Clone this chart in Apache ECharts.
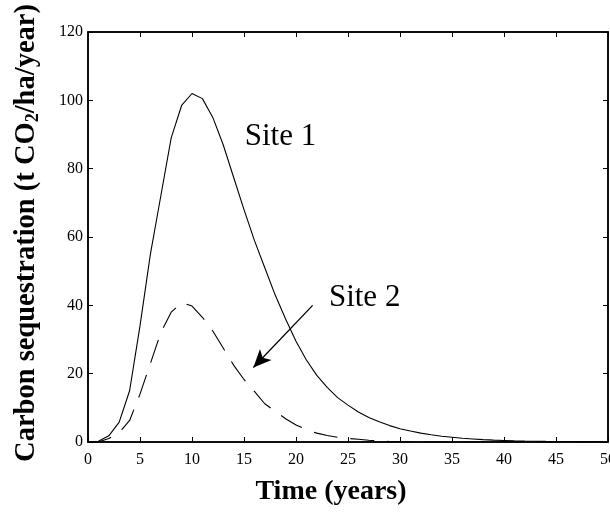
<!DOCTYPE html>
<html>
<head>
<meta charset="utf-8">
<script src="https://cdn.jsdelivr.net/npm/echarts@6/dist/echarts.min.js"></script>
<style>
  html, body { margin: 0; padding: 0; background: #ffffff; }
  #chart { width: 610px; height: 515px; }
</style>
</head>
<body>
<div id="chart"></div>
<script>
// Annual carbon sequestration at two sites over 50 years
const years = [0, 1, 2, 3, 4, 5, 6, 7, 8, 9, 10, 11, 12, 13, 14, 15, 16, 17, 18, 19, 20,
  21, 22, 23, 24, 25, 26, 27, 28, 29, 30, 31, 32, 33, 34, 35, 36, 37, 38, 39, 40,
  41, 42, 43, 44, 45, 46, 47, 48, 49, 50];

const site1 = [0, 0.2, 1.8, 5.8, 15, 34, 55, 72, 89, 98.5, 102, 100.5, 95, 87, 77.5, 68, 59, 51, 43, 36, 29.5,
  24, 19.5, 16, 13, 10.8, 8.8, 7.2, 5.9, 4.8, 3.9, 3.2, 2.6, 2.1, 1.7, 1.4, 1.1, 0.9, 0.7, 0.55, 0.45,
  0.36, 0.29, 0.23, 0.18, 0.15, 0.12, 0.1, 0.08, 0.06, 0.05];

const site2 = [0, 0, 1, 2.7, 6.3, 14, 23, 32, 38, 40.8, 39.8, 36.5, 32.5, 27.5, 22.5, 18.3, 14.8, 11.2, 9, 6.8, 5,
  3.6, 2.6, 1.9, 1.4, 1.05, 0.8, 0.5, 0.3, 0.15, 0.05, 0, 0, 0, 0, 0, 0, 0, 0, 0, 0,
  0, 0, 0, 0, 0, 0, 0, 0, 0, 0];

const xTicks = { min: 0, max: 50, step: 5 };
const yTicks = { min: 0, max: 120, step: 20 };

// Annotation anchors, in data units (year, t CO2/ha/year)
const site1LabelAt = [18.5, 89.3];
const site2LabelAt = [26.6, 42.3];
const arrowFrom = [21.6, 40];
const arrowTo = [15.9, 21.8];

const SERIF = '"Liberation Serif", "Times New Roman", serif';
const INK = '#000000';

const pair = (xs, ys) => xs.map((x, i) => [x, ys[i]]);

// Every axis gets its own fresh style objects
function axisLine() {
  return { show: true, onZero: false, lineStyle: { color: INK, width: 1.5 } };
}
function tickIn() {
  return { show: true, inside: true, length: 5, lineStyle: { color: INK, width: 1 } };
}
function makeAxis(pos, range, withLabels, margin) {
  return {
    type: 'value',
    position: pos,
    min: range.min, max: range.max, interval: range.step,
    axisLine: axisLine(),
    axisTick: tickIn(),
    splitLine: { show: false },
    axisLabel: withLabels
      ? { show: true, inside: false, color: INK, fontFamily: SERIF, fontSize: 16, margin: margin }
      : { show: false }
  };
}

const chart = echarts.init(document.getElementById('chart'), null, { renderer: 'canvas' });

chart.setOption({
  animation: false,
  backgroundColor: '#ffffff',
  grid: {
    left: 88, right: 2, top: 32, bottom: 73, containLabel: false,
    outerBoundsMode: 'none',
    show: true, borderColor: INK, borderWidth: 1.5, backgroundColor: 'rgba(0,0,0,0)'
  },
  xAxis: [
    makeAxis('bottom', xTicks, true, 10),
    makeAxis('top', xTicks, false, 0)
  ],
  yAxis: [
    makeAxis('left', yTicks, true, 5),
    makeAxis('right', yTicks, false, 0)
  ],
  series: [
    {
      name: 'Site 1',
      type: 'line',
      xAxisIndex: 0, yAxisIndex: 0,
      data: pair(years, site1),
      showSymbol: false,
      smooth: false,
      lineStyle: { color: INK, width: 1.1 },
      markPoint: {
        silent: true,
        symbol: 'circle', symbolSize: 1,
        itemStyle: { color: 'rgba(0,0,0,0)' },
        label: { show: true, position: 'inside', formatter: 'Site 1', color: INK, fontFamily: SERIF, fontSize: 31 },
        data: [{ coord: site1LabelAt }]
      }
    },
    {
      name: 'Site 2',
      type: 'line',
      xAxisIndex: 0, yAxisIndex: 0,
      data: pair(years, site2),
      showSymbol: false,
      smooth: false,
      lineStyle: { color: INK, width: 1.1, type: [24, 13] },
      markPoint: {
        silent: true,
        symbol: 'circle', symbolSize: 1,
        itemStyle: { color: 'rgba(0,0,0,0)' },
        label: { show: true, position: 'inside', formatter: 'Site 2', color: INK, fontFamily: SERIF, fontSize: 31 },
        data: [{ coord: site2LabelAt }]
      },
      markLine: {
        silent: true,
        symbol: ['none', 'arrow'],
        symbolSize: [12, 18],
        label: { show: false },
        lineStyle: { color: INK, width: 1.3, type: 'solid' },
        data: [[{ coord: arrowFrom }, { coord: arrowTo }]]
      }
    },
    // empty series keep the top and right frame axes active
    { type: 'line', xAxisIndex: 1, yAxisIndex: 1, data: [], silent: true },
  ],
  graphic: [
    {
      type: 'text',
      x: 331, y: 492,
      style: {
        text: 'Time (years)',
        font: 'bold 28px ' + SERIF,
        fill: INK,
        align: 'center', verticalAlign: 'middle'
      }
    },
    {
      type: 'text',
      x: 27, y: 233,
      rotation: Math.PI / 2,
      style: {
        text: '{b|Carbon sequestration (t CO}{s|2}{b|/ha/year)}',
        align: 'center', verticalAlign: 'middle',
        rich: {
          b: { fontFamily: SERIF, fontWeight: 'bold', fontSize: 28.5, lineHeight: 34, fill: INK },
          s: { fontFamily: SERIF, fontWeight: 'bold', fontSize: 18, lineHeight: 34, fill: INK, padding: [13, 0, 0, 0] }
        }
      }
    }
  ]
});
</script>
</body>
</html>
